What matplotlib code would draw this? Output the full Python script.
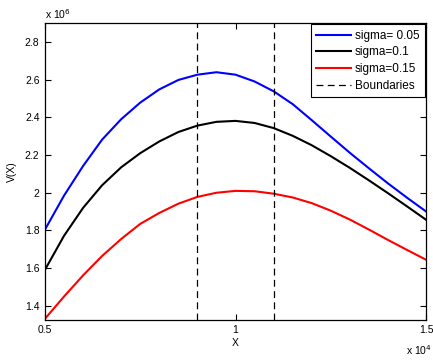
import matplotlib
matplotlib.use("Agg")
import matplotlib.pyplot as plt

# Data (X values; V values in units of 1e6)
x_vals = [5000, 5500, 6000, 6500, 7000, 7500, 8000, 8500, 9000, 9500, 10000,
          10500, 11000, 11500, 12000, 12500, 13000, 13500, 14000, 14500, 15000]
v_blue = [1.805, 1.985, 2.142, 2.282, 2.390, 2.478, 2.548, 2.598, 2.626, 2.639, 2.626,
          2.590, 2.538, 2.470, 2.385, 2.298, 2.212, 2.130, 2.050, 1.974, 1.901]
v_black = [1.592, 1.772, 1.920, 2.040, 2.135, 2.210, 2.272, 2.322, 2.356, 2.376, 2.381,
           2.370, 2.343, 2.302, 2.252, 2.194, 2.132, 2.066, 1.998, 1.928, 1.857]
v_red = [1.332, 1.450, 1.562, 1.665, 1.755, 1.835, 1.893, 1.942, 1.978, 2.000, 2.010,
         2.008, 1.995, 1.975, 1.945, 1.905, 1.858, 1.805, 1.750, 1.697, 1.645]

labels = ["sigma= 0.05", "sigma=0.1", "sigma=0.15", "Boundaries"]
boundaries = [9000, 11000]

xticks = [5000, 10000, 15000]
xticklabels = ["0.5", "1", "1.5"]
yticks = [1.4, 1.6, 1.8, 2.0, 2.2, 2.4, 2.6, 2.8]
yticklabels = ["1.4", "1.6", "1.8", "2", "2.2", "2.4", "2.6", "2.8"]

plt.rcParams['font.family'] = ['Liberation Sans', 'DejaVu Sans']
fs = 7.5

fig = plt.figure(figsize=(4.33, 3.6), dpi=100)
ax = fig.add_axes([45/433, 1 - 319.5/360, (426 - 45)/433, (319.5 - 23)/360])

ax.plot(x_vals, v_blue, color='#0000ff', lw=1.5, label=labels[0])
ax.plot(x_vals, v_black, color='black', lw=1.5, label=labels[1])
ax.plot(x_vals, v_red, color='#ff0000', lw=1.5, label=labels[2])
for i, b in enumerate(boundaries):
    ax.axvline(b, color='black', lw=0.9, linestyle=(0, (5.5, 3.5)),
               label=labels[3] if i == 0 else None)

ax.set_xlim(5000, 15000)
ax.set_ylim(1.328, 2.9)
ax.set_xticks(xticks)
ax.set_xticklabels(xticklabels, fontsize=fs)
ax.set_yticks(yticks)
ax.set_yticklabels(yticklabels, fontsize=fs)
ax.tick_params(direction='in', length=4, width=0.8, top=True, right=True, pad=4)
for s in ax.spines.values():
    s.set_linewidth(0.9)

ax.set_xlabel("X", fontsize=fs, labelpad=2)
ax.set_ylabel("V(X)", fontsize=fs, labelpad=6)

fig.text(45/433, 1 - 14/360, r"x 10$^{6}$", fontsize=fs, ha='left', va='center')
fig.text(432/433, 1 - 350/360, r"x 10$^{4}$", fontsize=fs, ha='right', va='center')

leg = ax.legend(loc='upper right', bbox_to_anchor=(1.0, 1.0), fontsize=8.5,
                frameon=True, fancybox=False, framealpha=1, edgecolor='black',
                handlelength=2.95, handletextpad=0.3, labelspacing=0.4,
                borderaxespad=0.12, borderpad=0.45)
leg.get_frame().set_linewidth(0.8)

fig.savefig("out.png", dpi=100)
